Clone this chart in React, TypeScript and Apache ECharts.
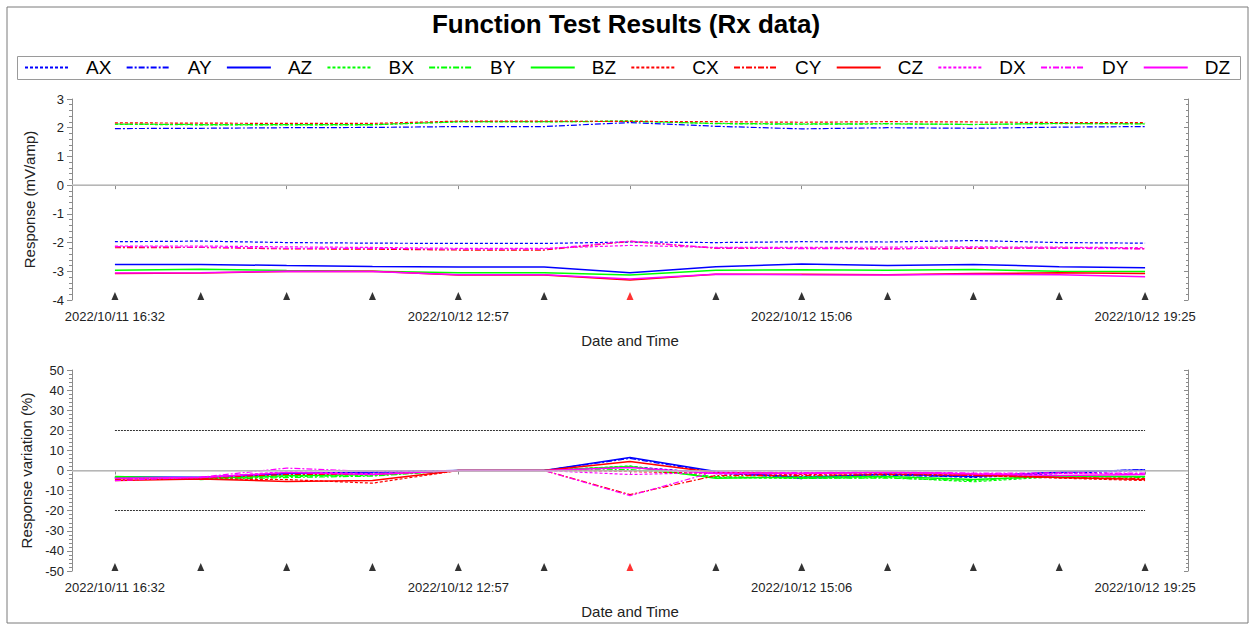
import React, { useEffect, useRef } from "react";
import * as echarts from "echarts";

// ---------- data ----------
const categories = [
  "2022/10/11 16:32", "", "", "",
  "2022/10/12 12:57", "", "", "",
  "2022/10/12 15:06", "", "", "",
  "2022/10/12 19:25",
];
const seriesNames = ["AX", "AY", "AZ", "BX", "BY", "BZ", "CX", "CY", "CZ", "DX", "DY", "DZ"];

// Response (mV/amp)
const respAX = [-1.97, -1.95, -2.0, -2.02, -2.03, -2.03, -1.98, -2.0, -1.97, -1.98, -1.93, -2.0, -2.02];
const respAY = [1.97, 1.98, 2.0, 2.01, 2.04, 2.04, 2.18, 2.05, 1.96, 2.0, 1.98, 2.02, 2.04];
const respAZ = [-2.76, -2.76, -2.8, -2.83, -2.85, -2.85, -3.05, -2.84, -2.75, -2.8, -2.76, -2.84, -2.88];
const respBX = [2.12, 2.1, 2.1, 2.1, 2.2, 2.2, 2.24, 2.14, 2.12, 2.13, 2.12, 2.14, 2.14];
const respBY = [2.13, 2.11, 2.11, 2.11, 2.21, 2.21, 2.22, 2.15, 2.13, 2.14, 2.11, 2.15, 2.13];
const respBZ = [-2.96, -2.93, -2.97, -3.0, -3.05, -3.05, -3.13, -2.96, -2.95, -2.96, -2.94, -3.0, -3.01];
const respCX = [2.17, 2.16, 2.15, 2.15, 2.23, 2.23, 2.22, 2.21, 2.19, 2.21, 2.2, 2.18, 2.18];
const respCY = [-2.18, -2.17, -2.22, -2.23, -2.26, -2.26, -1.96, -2.2, -2.2, -2.21, -2.2, -2.19, -2.21];
const respCZ = [-3.08, -3.06, -3.01, -3.0, -3.13, -3.13, -3.3, -3.1, -3.1, -3.12, -3.08, -3.05, -3.08];
const respDX = [-2.12, -2.12, -2.15, -2.17, -2.2, -2.2, -2.1, -2.17, -2.17, -2.16, -2.15, -2.16, -2.18];
const respDY = [-2.14, -2.16, -2.2, -2.2, -2.23, -2.23, -1.95, -2.19, -2.21, -2.22, -2.18, -2.2, -2.22];
const respDZ = [-3.06, -3.05, -3.0, -3.01, -3.12, -3.12, -3.27, -3.1, -3.12, -3.13, -3.1, -3.12, -3.19];

// Response variation (%)
const varAX = [-3.5, -4.0, -1.5, -1.0, 0, 0, 2.0, -1.5, -3.0, -2.0, -3.5, -1.5, 0.0];
const varAY = [-3.8, -3.5, -2.0, -1.5, 0, 0, 6.0, -1.0, -4.0, -2.5, -3.0, -1.0, 0.5];
const varAZ = [-3.2, -3.3, -1.5, -0.8, 0, 0, 6.5, -0.5, -3.5, -1.8, -3.0, -0.8, 0.3];
const varBX = [-3.5, -4.3, -3.0, -2.5, 0, 0, 2.3, -3.5, -4.0, -3.5, -5.6, -3.0, -3.2];
const varBY = [-3.6, -4.5, -3.5, -2.8, 0, 0, 0.5, -3.0, -3.8, -3.8, -5.0, -2.5, -3.5];
const varBZ = [-3.0, -4.0, -2.6, -2.0, 0, 0, 2.0, -3.8, -3.3, -3.0, -4.5, -2.8, -3.0];
const varCX = [-4.0, -4.2, -4.5, -6.3, 0, 0, -0.5, -1.5, -2.0, -1.5, -2.5, -3.8, -5.0];
const varCY = [-4.5, -3.8, -2.0, -2.0, 0, 0, -12.0, -2.5, -2.5, -2.0, -2.5, -3.5, -4.0];
const varCZ = [-5.0, -4.2, -5.5, -5.0, 0, 0, 4.5, -1.0, -1.5, -0.8, -2.0, -3.5, -4.5];
const varDX = [-4.0, -3.5, -0.5, -1.5, 0, 0, -2.0, -1.0, -1.3, -0.8, -1.5, -1.5, -1.5];
const varDY = [-5.0, -3.3, 1.2, -0.5, 0, 0, -12.5, -0.5, -1.0, -0.5, -1.3, -1.2, -1.3];
const varDZ = [-3.8, -3.5, -1.0, -2.0, 0, 0, 1.5, -1.5, -1.5, -1.0, -1.8, -2.5, -2.0];

const respData: Record<string, number[]> = {
  AX: respAX, AY: respAY, AZ: respAZ, BX: respBX, BY: respBY, BZ: respBZ,
  CX: respCX, CY: respCY, CZ: respCZ, DX: respDX, DY: respDY, DZ: respDZ,
};
const varData: Record<string, number[]> = {
  AX: varAX, AY: varAY, AZ: varAZ, BX: varBX, BY: varBY, BZ: varBZ,
  CX: varCX, CY: varCY, CZ: varCZ, DX: varDX, DY: varDY, DZ: varDZ,
};

const highlightedMarker = 6;
const limitLines = [20, -20];

// ---------- styles ----------
const FONT = "'Liberation Sans', Arial, sans-serif";
const sensorColor: Record<string, string> = { A: "#0000ff", B: "#00ff00", C: "#ff0000", D: "#ff00ff" };
const dashFor: Record<string, any> = { X: [3, 2], Y: [6, 2, 2, 2], Z: "solid" };
const AXIS_COLOR = "#8c8c8c";
const TEXT_COLOR = "#222";

function buildOption() {
  const gridLeft = 72;
  const gridWidth = 1116;
  const grids = [
    { left: gridLeft, top: 99, width: gridWidth, height: 201 },
    { left: gridLeft, top: 370, width: gridWidth, height: 201 },
  ];

  const xBottom = (gi: number) => ({
    type: "category",
    gridIndex: gi,
    position: "bottom",
    data: categories,
    boundaryGap: true,
    axisLine: { show: true, lineStyle: { color: AXIS_COLOR, width: 1 } },
    axisTick: { show: false },
    axisLabel: { interval: 0, margin: 10, fontSize: 13, color: TEXT_COLOR, fontFamily: FONT },
    splitLine: { show: false },
    name: "Date and Time",
    nameLocation: "middle",
    nameGap: 33,
    nameTextStyle: { fontSize: 15, color: TEXT_COLOR, fontFamily: FONT },
  });
  const xTop = (gi: number) => ({
    type: "category",
    gridIndex: gi,
    position: "top",
    data: categories,
    boundaryGap: true,
    axisLine: { show: true, lineStyle: { color: AXIS_COLOR, width: 1 } },
    axisTick: { show: true, alignWithLabel: true, inside: true, length: 4, lineStyle: { color: AXIS_COLOR } },
    axisLabel: { show: false },
    splitLine: { show: false },
  });
  const yLeft = (gi: number, min: number, max: number, interval: number, name: string) => ({
    type: "value",
    gridIndex: gi,
    position: "left",
    min, max, interval,
    axisLine: { show: true, lineStyle: { color: AXIS_COLOR, width: 1 } },
    axisTick: { show: true, length: 5, lineStyle: { color: AXIS_COLOR } },
    minorTick: { show: true, splitNumber: 5, length: 3, lineStyle: { color: AXIS_COLOR } },
    splitLine: { show: false },
    axisLabel: { fontSize: 13, color: TEXT_COLOR, fontFamily: FONT, margin: 8 },
    name,
    nameLocation: "middle",
    nameGap: 35,
    nameRotate: 90,
    nameTextStyle: { fontSize: 15, color: TEXT_COLOR, fontFamily: FONT },
  });
  const yRight = (gi: number, min: number, max: number, interval: number) => ({
    type: "value",
    gridIndex: gi,
    position: "right",
    min, max, interval,
    axisLine: { show: true, lineStyle: { color: AXIS_COLOR, width: 1 } },
    axisTick: { show: true, inside: true, length: 4, lineStyle: { color: AXIS_COLOR } },
    minorTick: { show: true, splitNumber: 5, length: 2, lineStyle: { color: AXIS_COLOR } },
    splitLine: { show: false },
    axisLabel: { show: false },
  });

  const series: any[] = [];
  [0, 1].forEach((gi) => {
    seriesNames.forEach((name, k) => {
      const color = sensorColor[name[0]];
      const isSolid = name[1] === "Z";
      const s: any = {
        type: "line",
        name,
        xAxisIndex: gi * 2,
        yAxisIndex: gi * 2,
        data: gi === 0 ? respData[name] : varData[name],
        symbol: "none",
        lineStyle: { color, width: isSolid ? 1.5 : 1.2, type: dashFor[name[1]] },
        itemStyle: { color },
        z: 3,
      };
      if (k === 0) {
        const zero = { yAxis: 0, lineStyle: { color: "#c4c4c4", type: "solid", width: 1.5 } };
        const data: any[] = [zero];
        if (gi === 1) {
          limitLines.forEach((v) => {
            data.push([
              { coord: [0, v], lineStyle: { color: "#333", type: [2, 1], width: 1 } },
              { coord: [categories.length - 1, v] },
            ]);
          });
        }
        s.markLine = { silent: true, symbol: "none", label: { show: false }, animation: false, data };
      }
      series.push(s);
    });
    // triangle markers sitting on the time axis
    const yMin = gi === 0 ? -4 : -50;
    series.push({
      type: "scatter",
      name: "markers" + gi,
      xAxisIndex: gi * 2,
      yAxisIndex: gi * 2,
      symbol: "triangle",
      symbolSize: [7, 8],
      symbolOffset: [0, -4],
      clip: false,
      silent: true,
      z: 5,
      data: categories.map((_, i) => ({
        value: [i, yMin],
        itemStyle: { color: i === highlightedMarker ? "#ff0000" : "#000000" },
      })),
    });
  });

  return {
    animation: false,
    backgroundColor: "#ffffff",
    textStyle: { fontFamily: FONT },
    title: {
      text: "Function Test Results (Rx data)",
      left: "center",
      top: 6,
      textStyle: { fontSize: 26, fontWeight: "bold", color: "#000", fontFamily: FONT },
    },
    legend: {
      data: seriesNames,
      left: 24,
      top: 58,
      padding: 0,
      itemWidth: 44,
      itemHeight: 12,
      itemGap: 14.3,
      selectedMode: false,
      itemStyle: { opacity: 0 },
      textStyle: { fontSize: 19, color: "#000", fontFamily: FONT, width: 30, padding: [0, 0, 0, 12] },
    },
    graphic: [
      {
        type: "rect",
        silent: true,
        shape: { x: 7, y: 7, width: 1241, height: 616 },
        style: { fill: "none", stroke: "#7a7a7a", lineWidth: 1 },
      },
      {
        type: "rect",
        silent: true,
        shape: { x: 17.5, y: 56.5, width: 1223, height: 23 },
        style: { fill: "none", stroke: "#9a9a9a", lineWidth: 1 },
      },
    ],
    grid: grids,
    xAxis: [xBottom(0), xTop(0), xBottom(1), xTop(1)],
    yAxis: [
      yLeft(0, -4, 3, 1, "Response (mV/amp)"),
      yRight(0, -4, 3, 1),
      yLeft(1, -50, 50, 10, "Response variation (%)"),
      yRight(1, -50, 50, 10),
    ],
    series,
  };
}

export default function App() {
  const ref = useRef<HTMLDivElement>(null);
  useEffect(() => {
    if (!ref.current) return;
    const chart = echarts.init(ref.current, undefined, { renderer: "svg" });
    chart.setOption(buildOption() as any);
    return () => chart.dispose();
  }, []);
  return (
    <div
      ref={ref}
      style={{ position: "fixed", left: 0, top: 0, width: 1252, height: 628, background: "#fff" }}
    />
  );
}
